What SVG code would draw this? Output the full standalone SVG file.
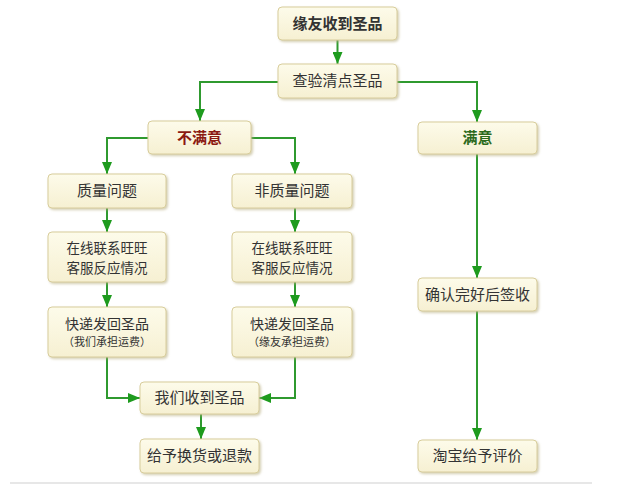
<svg xmlns="http://www.w3.org/2000/svg" width="620" height="489" viewBox="0 0 620 489">
<defs>
<linearGradient id="g" x1="0" y1="0" x2="0" y2="1">
<stop offset="0" stop-color="#fdfbea"/>
<stop offset="1" stop-color="#f6f0d2"/>
</linearGradient>
<marker id="ah" markerWidth="13" markerHeight="10" refX="12" refY="5" orient="auto" markerUnits="userSpaceOnUse">
<path d="M0,0 L12,5 L0,10 Z" fill="#1e9b1e"/>
</marker>
<filter id="sh" x="-10%" y="-10%" width="130%" height="140%">
<feDropShadow dx="1.5" dy="1.5" stdDeviation="1" flood-color="#b8ae80" flood-opacity="0.6"/>
</filter>
</defs>
<style>
.box{fill:url(#g);stroke:#d8cd9c;stroke-width:1;filter:url(#sh)}
.t{font-family:"Noto Sans CJK SC","Noto Sans",sans-serif;font-size:15px;fill:#333;text-anchor:middle}
.m{font-size:14px}
.n{font-size:13.5px}
.s{font-size:11px}
.b{font-weight:bold}
.c{fill:none;stroke:#2f9a2f;stroke-width:2;marker-end:url(#ah)}
</style>
<rect width="620" height="489" fill="#fff"/>
<line x1="10" y1="483" x2="592" y2="483" stroke="#cfcfcf" stroke-width="1"/>
<g id="connectors">
<path class="c" d="M337.5,40 V64"/>
<path class="c" d="M278,82 H200 V121"/>
<path class="c" d="M397,82 H477 V122"/>
<path class="c" d="M148,138 H107 V174"/>
<path class="c" d="M251,138 H295 V174"/>
<path class="c" d="M107,208 V232"/>
<path class="c" d="M295,208 V232"/>
<path class="c" d="M107,282 V307"/>
<path class="c" d="M295,282 V307"/>
<path class="c" d="M107,357 V398 H140"/>
<path class="c" d="M295,357 V398 H259"/>
<path class="c" d="M201,414 V439"/>
<path class="c" d="M477,154 V278"/>
<path class="c" d="M477,311 V440"/>
</g>
<g id="n1"><rect class="box" x="278" y="7" width="119" height="33" rx="4"/><text class="t b" x="337.5" y="29">缘友收到圣品</text></g>
<g id="n2"><rect class="box" x="278" y="64" width="119" height="34" rx="4"/><text class="t" x="337.5" y="86">查验清点圣品</text></g>
<g id="n3"><rect class="box" x="148" y="121" width="103" height="33" rx="4"/><text class="t b" x="199.5" y="143" style="fill:#8b1a12">不满意</text></g>
<g id="n4"><rect class="box" x="418" y="122" width="119" height="32" rx="4"/><text class="t b" x="477.5" y="143" style="fill:#2c6a1c">满意</text></g>
<g id="n5"><rect class="box" x="48" y="174" width="118" height="34" rx="4"/><text class="t" x="107" y="196">质量问题</text></g>
<g id="n6"><rect class="box" x="232" y="174" width="120" height="34" rx="4"/><text class="t" x="292" y="196">非质量问题</text></g>
<g id="n7"><rect class="box" x="48" y="232" width="118" height="50" rx="4"/><text class="t n" x="107" y="253">在线联系旺旺</text><text class="t n" x="107" y="273">客服反应情况</text></g>
<g id="n8"><rect class="box" x="232" y="232" width="120" height="50" rx="4"/><text class="t n" x="292" y="253">在线联系旺旺</text><text class="t n" x="292" y="273">客服反应情况</text></g>
<g id="n9"><rect class="box" x="48" y="307" width="118" height="50" rx="4"/><text class="t m" x="107" y="329">快递发回圣品</text><text class="t s" x="107" y="346">（我们承担运费）</text></g>
<g id="n10"><rect class="box" x="232" y="307" width="120" height="50" rx="4"/><text class="t m" x="292" y="329">快递发回圣品</text><text class="t s" x="292" y="346">（缘友承担运费）</text></g>
<g id="n11"><rect class="box" x="418" y="278" width="119" height="33" rx="4"/><text class="t" x="477.5" y="300">确认完好后签收</text></g>
<g id="n12"><rect class="box" x="140" y="382" width="119" height="32" rx="4"/><text class="t" x="199.5" y="403">我们收到圣品</text></g>
<g id="n13"><rect class="box" x="140" y="439" width="119" height="34" rx="4"/><text class="t" x="199.5" y="461">给予换货或退款</text></g>
<g id="n14"><rect class="box" x="418" y="440" width="119" height="32" rx="4"/><text class="t" x="477.5" y="461">淘宝给予评价</text></g>
</svg>
